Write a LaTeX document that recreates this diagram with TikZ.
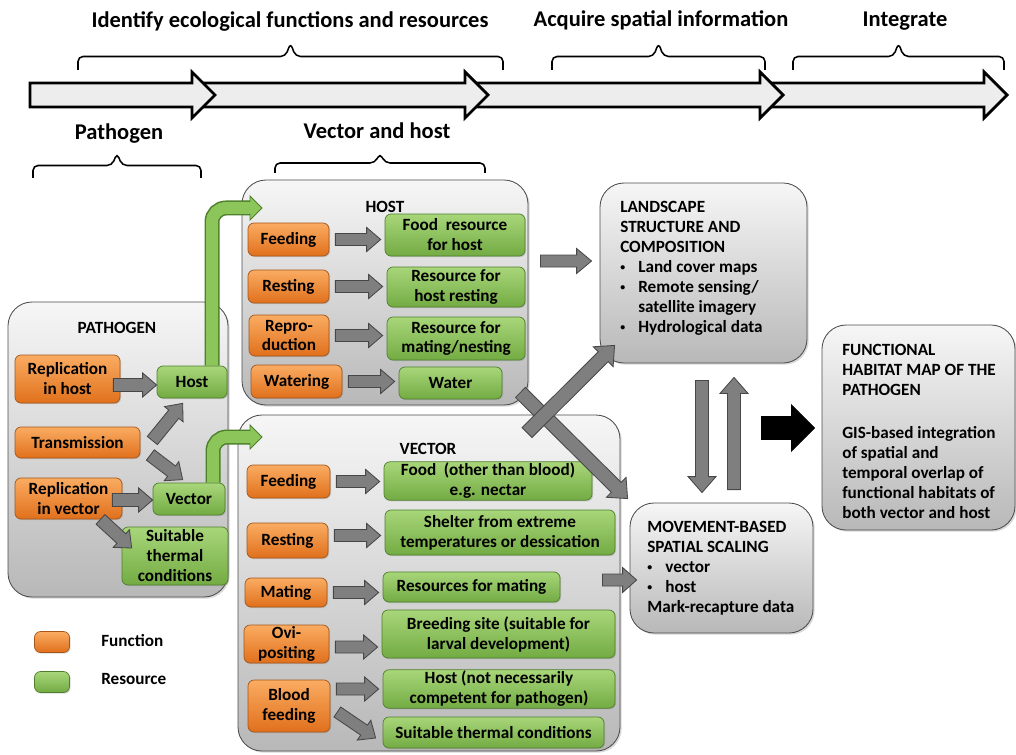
\documentclass[tikz,border=0pt]{standalone}
\usepackage{fontspec}
\setmainfont{Carlito}
\usetikzlibrary{calc, shadows}

\definecolor{fnTop}{HTML}{FAAC62}
\definecolor{fnBot}{HTML}{E0701C}
\definecolor{fnLine}{HTML}{A4561B}
\definecolor{rsTop}{HTML}{A8D67A}
\definecolor{rsBot}{HTML}{73AB43}
\definecolor{rsLine}{HTML}{4E7F2C}
\definecolor{panelTop}{HTML}{F6F6F6}
\definecolor{panelBot}{HTML}{B8B8B8}
\definecolor{panelLine}{HTML}{4D4D4D}
\definecolor{arrFill}{HTML}{7F7F7F}
\definecolor{arrLine}{HTML}{474747}
\definecolor{bandFill}{HTML}{EDEDED}
\definecolor{grnShaft}{HTML}{8CC65A}

\newdimen\pxu
\pxu=0.025cm
\newcommand\bul{\makebox[18\pxu][l]{\raisebox{0.12em}{\fontsize{7}{7}\selectfont\textbullet}}}

% block arrow: [style]{from}{to}{shaft half}{head half}{head length}
\newcommand\barrow[6][garr]{%
  \coordinate (ta) at #2;
  \coordinate (tb) at #3;
  \coordinate (hb) at ($(tb)!#6*0.025cm!(ta)$);
  \draw[#1] ($(ta)!#4*0.025cm!90:(tb)$) -- ($(hb)!#4*0.025cm!90:(tb)$)
    -- ($(hb)!#5*0.025cm!90:(tb)$) -- (tb) -- ($(hb)!#5*0.025cm!-90:(tb)$)
    -- ($(hb)!#4*0.025cm!-90:(tb)$) -- ($(ta)!#4*0.025cm!-90:(tb)$) -- cycle;}

% bent green arrow: {start}{tip}
\newcommand\garrow[2]{%
  \coordinate (gs) at #1;
  \coordinate (gt) at #2;
  \coordinate (gb) at ($(gt)+(-12,0)$);
  \draw[rsLine, line width=15\pxu, rounded corners=14\pxu] (gs) |- ($(gb)+(1,0)$);
  \draw[grnShaft, line width=12\pxu, rounded corners=14\pxu] (gs) |- ($(gb)+(1,0)$);
  \fill[grnShaft] ($(gb)+(0,-12)$) -- (gt) -- ($(gb)+(0,12)$) -- cycle;
  \draw[rsLine, line width=0.6pt] ($(gb)+(0,-6)$) -- ($(gb)+(0,-12)$) -- (gt)
    -- ($(gb)+(0,12)$) -- ($(gb)+(0,6)$);}

% square brace: {x1}{x2}{base y}{height}
\newcommand\bracket[4]{%
  \draw[line width=1.1pt, rounded corners=5\pxu] (#1,#3) -- (#1,#3-#4/2)
    -- ({(#1+#2)/2-5},#3-#4/2) -- ({(#1+#2)/2},#3-#4) -- ({(#1+#2)/2+5},#3-#4/2)
    -- (#2,#3-#4/2) -- (#2,#3);}

\begin{document}
\begin{tikzpicture}[x=0.025cm, y=-0.025cm,
  font=\bfseries\fontsize{12.2}{14.2}\selectfont,
  title/.style={font=\bfseries\fontsize{16}{19}\selectfont, anchor=base, inner sep=0},
  sz/.style 2 args={minimum width=#1\pxu, minimum height=#2\pxu},
  panel/.style={draw=panelLine, line width=0.6pt, rounded corners=24\pxu,
    top color=panelTop, bottom color=panelBot,
    drop shadow={shadow xshift=1.2pt, shadow yshift=-1.2pt, opacity=0.3}},
  fn/.style={draw=fnLine, line width=0.5pt, rounded corners=6\pxu,
    top color=fnTop, bottom color=fnBot, align=center, inner sep=1pt,
    drop shadow={shadow xshift=0.8pt, shadow yshift=-0.8pt, opacity=0.3}},
  rs/.style={draw=rsLine, line width=0.5pt, rounded corners=6\pxu,
    top color=rsTop, bottom color=rsBot, align=center, inner sep=1pt,
    drop shadow={shadow xshift=0.8pt, shadow yshift=-0.8pt, opacity=0.3}},
  garr/.style={fill=arrFill, draw=arrLine, line width=0.6pt, line join=miter},
  karr/.style={fill=black, draw=black, line width=0.6pt, line join=miter},
  band/.style={fill=bandFill, draw=black, line width=2pt, line join=miter},
  txt/.style={align=left, inner sep=0, anchor=north west},
  lbl/.style={inner sep=0, anchor=base}]
\useasboundingbox (0,0) rectangle (1016,754);

% process band
\coordinate (s0) at (30,95);
\coordinate (s1) at (215,95);
\coordinate (s2) at (488,95);
\coordinate (s3) at (783,95);
\coordinate (s4) at (1007,95);
\barrow[band]{($(s3)+(-16,0)$)}{(s4)}{12}{23}{23}
\barrow[band]{($(s2)+(-16,0)$)}{(s3)}{12}{23}{23}
\barrow[band]{($(s1)+(-16,0)$)}{(s2)}{12}{23}{23}
\barrow[band]{(s0)}{(s1)}{12}{23}{23}

\node[title] (tid) at (290,28) {Identify ecological functions and resources};
\node[title] (tacq) at (661,27) {Acquire spatial information};
\node[title] (tint) at (905,27) {Integrate};
\node[title] (tpat) at (119,140) {Pathogen};
\node[title] (tvh) at (377,139) {Vector and host};

\bracket{78}{503}{70}{27}
\bracket{552}{765}{70}{27}
\bracket{793}{1004}{70}{27}
\bracket{33}{201}{178}{25}
\bracket{275}{485}{173}{20}

% panels
\node[panel, sz={220}{295}] (pathbox) at (118,449.5) {};
\node[panel, sz={286}{225}] (hostbox) at (385,292.5) {};
\node[panel, sz={382}{336}] (vecbox) at (429,583) {};
\node[panel, sz={207}{180}] (land) at (703.5,273) {};
\node[panel, sz={183}{130}] (move) at (721.5,568) {};
\node[panel, sz={193}{205}] (func) at (918.5,427.5) {};

\node[lbl] (pathl) at (117,333) {PATHOGEN};
\node[lbl] (hostl) at (385,212) {HOST};
\node[lbl] (vecl) at (428,454) {VECTOR};

\node[txt] (landt) at (620,201) {LANDSCAPE\\STRUCTURE AND\\COMPOSITION\\\bul Land cover maps\\\bul Remote sensing/\\\hspace*{18\pxu}satellite imagery\\\bul Hydrological data};
\node[txt] (movet) at (647,521) {MOVEMENT-BASED\\SPATIAL SCALING\\\bul vector\\\bul host\\Mark-recapture data};
\node[txt] (funct) at (842,344) {FUNCTIONAL\\HABITAT MAP OF THE\\PATHOGEN\\[23\pxu]GIS-based integration\\of spatial and\\temporal overlap of\\functional habitats of\\both vector and host};

% pathogen
\node[fn, sz={105}{48}] (rih) at (67.5,379) {Replication\\in host};
\node[fn, sz={125}{31}] (tra) at (77.5,442.5) {Transmission};
\node[fn, sz={107}{41}] (riv) at (68.5,498.5) {Replication\\in vector};
\node[rs, sz={70}{32}] (phost) at (192,382) {Host};
\node[rs, sz={72}{32}] (pvec) at (189,499) {Vector};
\node[rs, sz={106}{58}] (ptherm) at (175,556) {Suitable\\thermal\\conditions};

% host
\node[fn, sz={81}{33}] (hf) at (288.5,239.5) {Feeding};
\node[fn, sz={81}{33}] (hr) at (288.5,286.5) {Resting};
\node[fn, sz={80}{41}] (hp) at (289,335.5) {Repro-\\duction};
\node[fn, sz={91}{33}] (hw) at (296.5,381.5) {Watering};
\node[rs, sz={140}{42}] (hfr) at (455,235) {Food~ resource\\for host};
\node[rs, sz={138}{40}] (hrr) at (456,287) {Resource for\\host resting};
\node[rs, sz={138}{43}] (hmr) at (456,338.5) {Resource for\\mating/nesting};
\node[rs, sz={103}{32}] (hwr) at (450.5,383) {Water};

% vector
\node[fn, sz={83}{33}] (vf) at (288.5,481.5) {Feeding};
\node[fn, sz={81}{35}] (vr) at (287.5,540.5) {Resting};
\node[fn, sz={82}{29}] (vm) at (286,592.5) {Mating};
\node[fn, sz={85}{38}] (vo) at (286.5,644) {Ovi-\\positing};
\node[fn, sz={82}{52}] (vb) at (289,706) {Blood\\feeding};
\node[rs, sz={208}{38}] (vfr) at (488,481) {Food~ (other than blood)\\e.g. nectar};
\node[rs, sz={230}{45}] (vsr) at (500,532.5) {Shelter from extreme\\temperatures or dessication};
\node[rs, sz={177}{30}] (vmr) at (471.5,587) {Resources for mating};
\node[rs, sz={233}{48}] (vbr) at (498.5,634) {Breeding site (suitable for\\larval development)};
\node[rs, sz={232}{38}] (vhr) at (499,689) {Host (not necessarily\\competent for pathogen)};
\node[rs, sz={221}{31}] (vtr) at (493.5,732.5) {Suitable thermal conditions};

% legend
\node[fn, sz={35}{21}] (lgf) at (52,642) {};
\node[rs, sz={35}{21}] (lgr) at (52,682) {};
\node[inner sep=0, anchor=west] (lgft) at (101,641) {Function};
\node[inner sep=0, anchor=west] (lgrt) at (101,679) {Resource};

% arrows in pathogen
\barrow{($(rih.east)+(-7,6)$)}{($(phost.west)+(0,3)$)}{6.5}{12}{14}
\barrow{($(tra.east)+(12,-2)$)}{($(phost.south west)+(26,5)$)}{6.5}{12}{14}
\barrow{($(tra.east)+(10,12.5)$)}{($(pvec.north west)+(30,-3)$)}{6.5}{12}{14}
\barrow{($(riv.east)+(-10,1.5)$)}{($(pvec.west)+(0,1)$)}{6.5}{12}{14}
\barrow{($(riv.south)+(32,0)$)}{($(ptherm.west)+(10,-8)$)}{6.5}{12}{14}
\garrow{($(phost.north)+(20,0)$)}{(262,208)}
\garrow{($(pvec.north)+(24,0)$)}{(262,437)}

% arrows in host
\barrow{($(hf.east)+(6,0)$)}{($(hf.east -| hfr.west)+(-4,0)$)}{6}{12}{14}
\barrow{($(hr.east)+(6,0)$)}{($(hr.east -| hrr.west)+(-4,0)$)}{6}{12}{14}
\barrow{($(hp.east)+(6,0)$)}{($(hp.east -| hmr.west)+(-4,0)$)}{6}{12}{14}
\barrow{($(hw.east)+(6,0)$)}{($(hw.east -| hwr.west)+(-4,0)$)}{6}{12}{14}

% arrows in vector
\barrow{($(vf.east)+(6,0)$)}{($(vf.east -| vfr.west)+(-4,0)$)}{6}{12}{14}
\barrow{($(vr.east)+(6,-5)$)}{($(vr.east -| vsr.west)+(-4,-5)$)}{6}{12}{14}
\barrow{($(vm.east)+(6,0)$)}{($(vm.east -| vmr.west)+(-4,0)$)}{6}{12}{14}
\barrow{($(vo.east)+(6,3)$)}{($(vo.east -| vbr.west)+(-4,3)$)}{6}{12}{14}
\barrow{($(vb.east |- vhr.west)+(6,0)$)}{($(vhr.west)+(-4,0)$)}{6}{12}{14}
\barrow{($(vb.east)+(7,6)$)}{($(vtr.west)+(-7,5.5)$)}{6}{12}{14}

% towards the maps
\coordinate (hl) at ($(land.west)+(-8,-12)$);
\barrow{($(hl -| hostbox.east)+(12,0)$)}{(hl)}{6}{12.5}{15}
\barrow{($(hostbox.south east)+(-8,-13)$)}{($(move.north west)+(-2,-4)$)}{7}{14}{16}
\barrow{($(vecbox.north)+(98,18)$)}{($(land.south west)+(15,-18)$)}{7}{14}{16}
\coordinate (vmv) at ($(move.west)+(7,12)$);
\barrow{($(vmv -| vecbox.east)+(-18,0)$)}{(vmv)}{6}{12.5}{14}
\barrow{($(land.south)+(-1.5,17)$)}{($(move.north)+(-19.5,-10)$)}{6.5}{14}{16}
\barrow{($(move.north)+(12.5,-13)$)}{($(land.south)+(30.5,14)$)}{6.5}{14}{16}
\coordinate (kt) at ($(func.west)+(-7,0.5)$);
\barrow[karr]{($(kt)+(-53,0)$)}{(kt)}{11.5}{23}{23}
\end{tikzpicture}
\end{document}
